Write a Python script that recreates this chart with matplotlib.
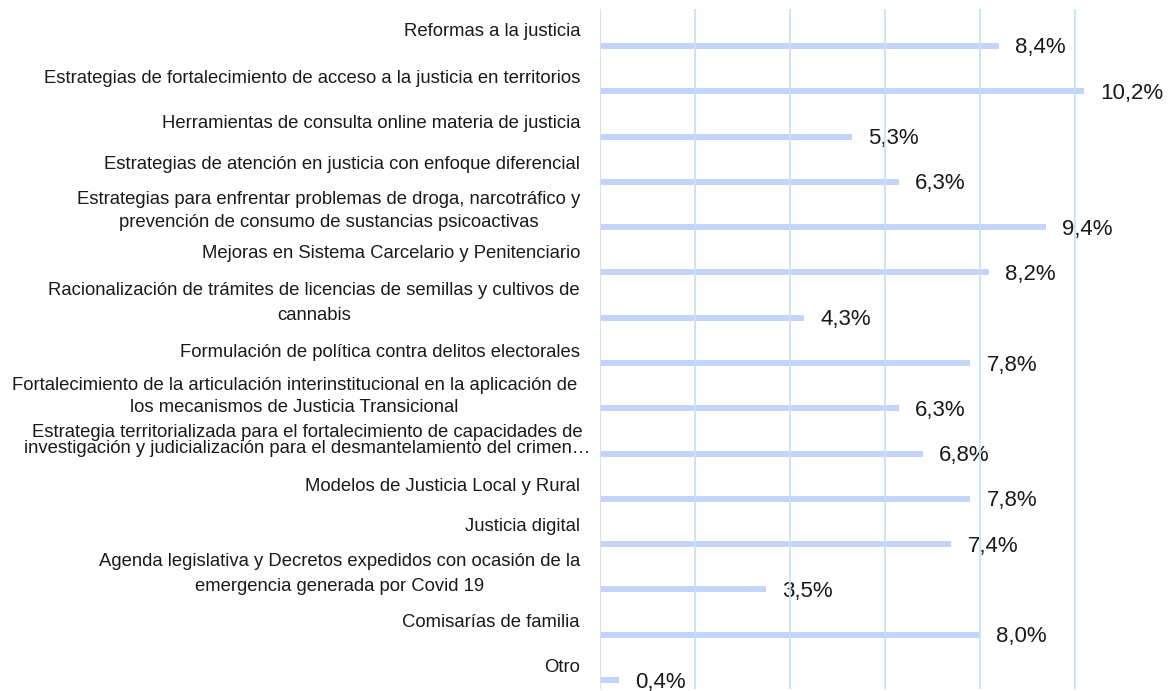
import matplotlib
matplotlib.use("Agg")
import matplotlib.pyplot as plt

# ================= Data =================
CATEGORIES = [
    "Reformas a la justicia",
    "Estrategias de fortalecimiento de acceso a la justicia en territorios",
    "Herramientas de consulta online materia de justicia",
    "Estrategias de atención en justicia con enfoque diferencial",
    "Estrategias para enfrentar problemas de droga, narcotráfico y\nprevención de consumo de sustancias psicoactivas",
    "Mejoras en Sistema Carcelario y Penitenciario",
    "Racionalización de trámites de licencias de semillas y cultivos de\ncannabis",
    "Formulación de política contra delitos electorales",
    "Fortalecimiento de la articulación interinstitucional en la aplicación de\nlos mecanismos de Justicia Transicional",
    "Estrategia territorializada para el fortalecimiento de capacidades de\ninvestigación y judicialización para el desmantelamiento del crimen…",
    "Modelos de Justicia Local y Rural",
    "Justicia digital",
    "Agenda legislativa y Decretos expedidos con ocasión de la\nemergencia generada por Covid 19",
    "Comisarías de familia",
    "Otro",
]
VALUES = [8.4, 10.2, 5.3, 6.3, 9.4, 8.2, 4.3, 7.8, 6.3, 6.8, 7.8, 7.4, 3.5, 8.0, 0.4]
XTICKS = [0, 2, 4, 6, 8, 10]

# label layout (pixels): how far above the bar, right-edge shift, line spacing
LABEL_DY = [14, 13, 13, 17, 16.5, 19, 15, 11, 12, 13.5, 12, 18, 15.5, 12, 13]
LABEL_DX = [0, 0, 0, 0, 0, 0, 0, 0, -3, 10, 0, 0, 0, 0, 0]
LINE_SP = [1.2, 1.2, 1.2, 1.2, 1.44, 1.2, 1.64, 1.2, 1.36, 0.93, 1.2, 1.2, 1.58, 1.2, 1.2]

BAR_COLOR = "#c4d3f9"
GRID_COLOR = "#c9e0f8"
FONT = "Liberation Sans"
# ========================================

W, H = 1169, 691
fig = plt.figure(figsize=(W / 100, H / 100), dpi=100)
ax = fig.add_axes([600 / W, (H - 689) / H, 570 / W, 680 / H])

n = len(CATEGORIES)
pos = list(range(n))
ax.barh(pos, VALUES, height=0.133, color=BAR_COLOR, zorder=2)

ax.set_xlim(0, 12)
step = 45.29
ax.set_ylim((689 - 46) / step, (9 - 46) / step)

ax.set_xticks(XTICKS)
ax.set_yticks([])
ax.tick_params(axis="x", length=0, labelbottom=False)
for s in ax.spines.values():
    s.set_visible(False)
for x in XTICKS:
    ax.axvline(x, color=GRID_COLOR, linewidth=1.3, zorder=4)

for i, (cat, v) in enumerate(zip(CATEGORIES, VALUES)):
    ax.annotate(cat, xy=(0, i), xycoords=ax.get_yaxis_transform(),
                xytext=(-20 + LABEL_DX[i], LABEL_DY[i]), textcoords="offset pixels",
                ha="right", va="center", multialignment="center",
                linespacing=LINE_SP[i], fontsize=13.3, family=FONT,
                color="#1a1a1a", annotation_clip=False)
    ax.annotate(f"{v:.1f}".replace(".", ",") + "%", xy=(v, i),
                xytext=(16, -2), textcoords="offset pixels",
                ha="left", va="center", fontsize=16, family=FONT,
                color="#1a1a1a", annotation_clip=False, zorder=3)

fig.savefig("out.png", dpi=100)
